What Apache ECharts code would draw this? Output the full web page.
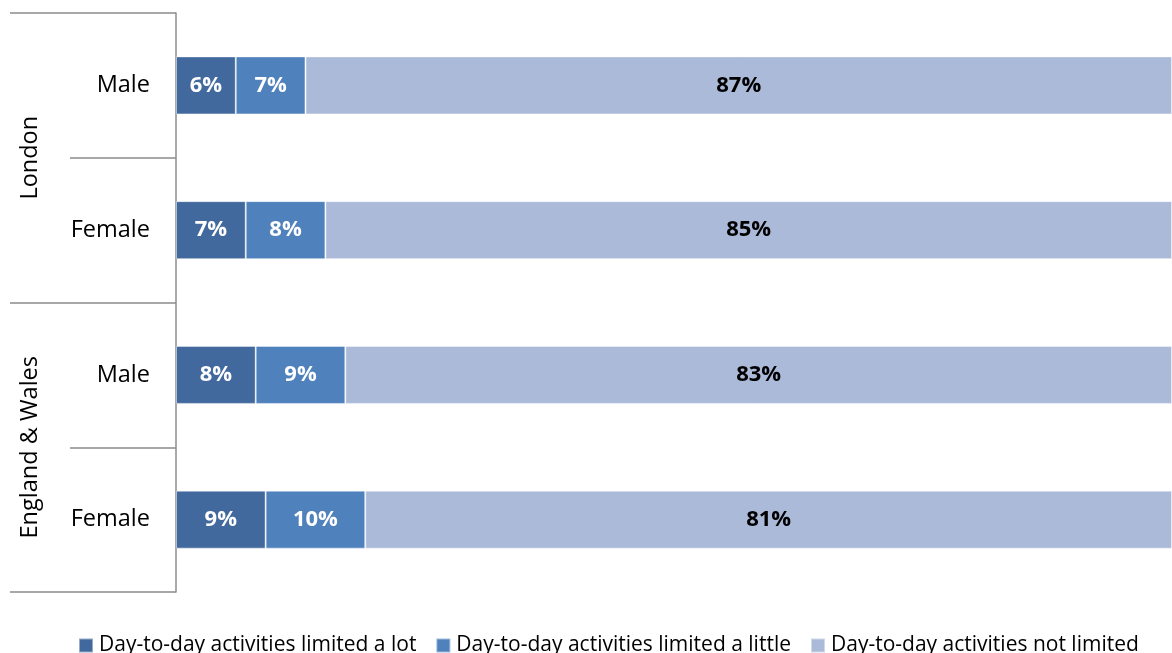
<!DOCTYPE html>
<html>
<head>
<meta charset="utf-8">
<script src="https://cdn.jsdelivr.net/npm/echarts@6/dist/echarts.min.js"></script>
<style>
  html, body { margin: 0; padding: 0; background: #fff; }
  #chart { width: 1172px; height: 653px; }
</style>
</head>
<body>
<div id="chart"></div>
<script>
// Rows, top to bottom
const sexes = ['Male', 'Female', 'Male', 'Female'];
const areas = ['London', 'England & Wales'];

// Share of residents (%) by day-to-day activity limitation
const limitedLot    = [6, 7, 8, 9];
const limitedLittle = [7, 8, 9, 10];
const notLimited    = [87, 85, 83, 81];

const seriesNames = [
  'Day-to-day activities limited a lot',
  'Day-to-day activities limited a little',
  'Day-to-day activities not limited'
];

const FONT = 'Open Sans';
const AXIS_GREY = '#8c8c8c';

function barSeries(name, values, color, labelColor) {
  return {
    name: name,
    type: 'bar',
    stack: 'total',
    yAxisIndex: 0,
    data: values,
    barWidth: 58,
    itemStyle: { color: color, borderColor: 'rgba(255,255,255,0.45)', borderWidth: 1 },
    label: {
      show: true,
      position: 'inside',
      formatter: '{c}%',
      color: labelColor,
      fontFamily: FONT,
      fontWeight: 'bold',
      fontSize: 22
    },
    emphasis: { disabled: true }
  };
}

const chart = echarts.init(document.getElementById('chart'), null, { renderer: 'canvas' });
chart.setOption({
  animation: false,
  grid: { left: 176, right: 0, top: 13, bottom: 61, containLabel: false },
  legend: {
    left: 73,
    top: 630,
    itemWidth: 14,
    itemHeight: 14,
    itemGap: 19,
    icon: 'rect',
    textStyle: { fontFamily: FONT, fontSize: 21, color: '#000', padding: [0, 0, 0, 1] },
    data: seriesNames
  },
  xAxis: { type: 'value', min: 0, max: 100, show: false },
  yAxis: [
    {
      type: 'category',
      data: sexes,
      inverse: true,
      axisLine: { show: true, lineStyle: { color: AXIS_GREY, width: 1.5 } },
      axisTick: { show: true, length: 106, lineStyle: { color: AXIS_GREY, width: 1.5 } },
      axisLabel: { margin: 26, fontFamily: FONT, fontSize: 23.5, color: '#000' },
      splitLine: { show: false }
    },
    {
      type: 'category',
      data: areas,
      inverse: true,
      position: 'left',
      axisLine: { show: false },
      axisTick: { show: true, length: 166, lineStyle: { color: AXIS_GREY, width: 1.5 } },
      axisLabel: { rotate: 90, margin: 134, fontFamily: FONT, fontSize: 23.5, color: '#000' },
      splitLine: { show: false }
    }
  ],
  series: [
    barSeries(seriesNames[0], limitedLot, '#41699d', '#ffffff'),
    barSeries(seriesNames[1], limitedLittle, '#4f81bd', '#ffffff'),
    barSeries(seriesNames[2], notLimited, '#aabad8', '#000000')
  ]
});
</script>
</body>
</html>
